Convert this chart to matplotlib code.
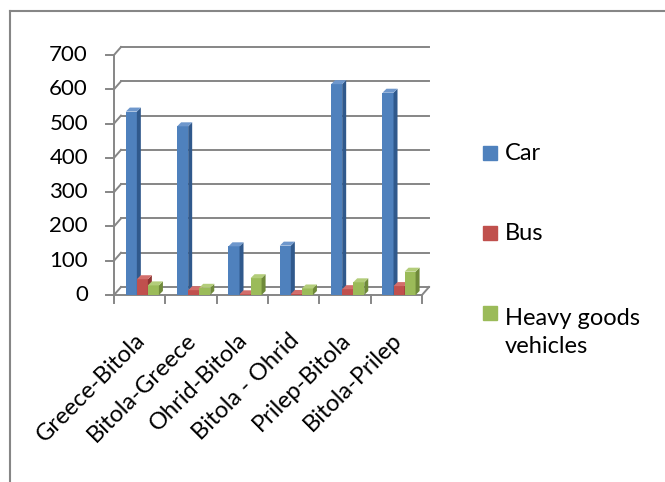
import matplotlib
matplotlib.use("Agg")
import matplotlib.pyplot as plt
from matplotlib.patches import Polygon, Rectangle
from matplotlib.lines import Line2D
from matplotlib.transforms import offset_copy

# data
routes = ["Greece-Bitola", "Bitola-Greece", "Ohrid-Bitola", "Bitola - Ohrid", "Prilep-Bitola", "Bitola-Prilep"]
car = [535, 492, 142, 144, 615, 590]
bus = [46, 14, 2, 3, 17, 26]
hgv = [28, 21, 49, 19, 37, 68]
series_names = ["Car", "Bus", "Heavy goods\nvehicles"]
yticks = [0, 100, 200, 300, 400, 500, 600, 700]

front_cols = ["#4F81BD", "#C0504D", "#9BBB59"]
side_cols = ["#30598C", "#8E3532", "#6F8A3A"]
top_cols = ["#6E97CC", "#D36E6B", "#B3CD7A"]
grid_col = "#868686"

plt.rcParams["font.family"] = ["Lato", "DejaVu Sans"]

W, H = 665, 482
fig = plt.figure(figsize=(W / 100, H / 100), dpi=100)
# axes placed in pixels: front floor edge at y=295, 700 at y=55, x from 114 to 422
ax = fig.add_axes([114 / W, (H - 295) / H, 308 / W, 240 / H])
ax.set_xlim(-0.5, 5.5)
ax.set_ylim(0, 700)
ax.axis("off")

n = len(routes)
px_x = 308 / n          # pixels per category
px_y = 240 / 700        # pixels per unit value

# back wall offset
back = offset_copy(ax.transData, fig, x=7, y=8, units="dots")

for v in yticks:
    # back wall gridline
    ax.plot([-0.5, 5.5], [v, v], color=grid_col, lw=1.4, transform=back, clip_on=False)
    # left wall diagonal
    ax.plot([-0.5, -0.5 + 7 / px_x], [v, v + 8 / px_y], color=grid_col, lw=1.4, clip_on=False)
    # tick mark on front axis
    ax.plot([-0.5 - 8 / px_x, -0.5], [v, v], color=grid_col, lw=1.4, clip_on=False)
    ax.text(-0.5 - 26 / px_x, v, str(v), ha="right", va="center", fontsize=16)

# front vertical axis
ax.plot([-0.5, -0.5], [0, 700], color=grid_col, lw=1.4, clip_on=False)
# floor front edge and right edge
ax.plot([-0.5, 5.5], [0, 0], color=grid_col, lw=1.4, clip_on=False)
ax.plot([5.5, 5.5 + 7 / px_x], [0, 8 / px_y], color=grid_col, lw=1.4, clip_on=False)
# category tick marks
for k in range(n + 1):
    ax.plot([k - 0.5, k - 0.5], [0, -8 / px_y], color=grid_col, lw=1.4, clip_on=False)

# 3d-looking bars
width = 0.215
ddx = 4 / px_x
ddy = 4 / px_y
for j, vals in enumerate([car, bus, hgv]):
    lefts = [i - 0.5 + 0.23 + j * width for i in range(n)]
    ax.bar(lefts, vals, width=width, align="edge", color=front_cols[j], zorder=3 + j)
    for x0, h in zip(lefts, vals):
        x1 = x0 + width
        ax.add_patch(Polygon([(x1, 0), (x1 + ddx, ddy), (x1 + ddx, h + ddy), (x1, h)],
                             closed=True, color=side_cols[j], zorder=3 + j, lw=0))
        ax.add_patch(Polygon([(x0, h), (x1, h), (x1 + ddx, h + ddy), (x0 + ddx, h + ddy)],
                             closed=True, color=top_cols[j], zorder=3 + j, lw=0))

# rotated category labels
lab_tr = offset_copy(ax.transData, fig, x=2, y=-42, units="dots")
for i, lab in enumerate(routes):
    ax.text(i, 0, lab, rotation=45, rotation_mode="anchor", ha="right", va="center",
            fontsize=17, transform=lab_tr)

# legend
leg_y = [153, 233, 313]
for j, name in enumerate(series_names):
    yc = (H - leg_y[j]) / H
    fig.add_artist(Rectangle((483 / W, yc - 7 / H), 14 / W, 14 / H, color=front_cols[j],
                             transform=fig.transFigure))
    # baseline of the last line sits one line pitch (32px) below per extra line
    extra = 33 * name.count("\n")
    fig.text(505 / W, (H - leg_y[j] - 7 - extra) / H, name, ha="left", va="baseline",
             fontsize=17, linespacing=1.4)

# chart frame (top and left borders only visible)
fig.add_artist(Line2D([10 / W, 1], [(H - 11) / H, (H - 11) / H], color=grid_col, lw=1.5,
                      transform=fig.transFigure))
fig.add_artist(Line2D([10 / W, 10 / W], [0, (H - 11) / H], color=grid_col, lw=1.5,
                      transform=fig.transFigure))

fig.savefig("out.png", dpi=100)
